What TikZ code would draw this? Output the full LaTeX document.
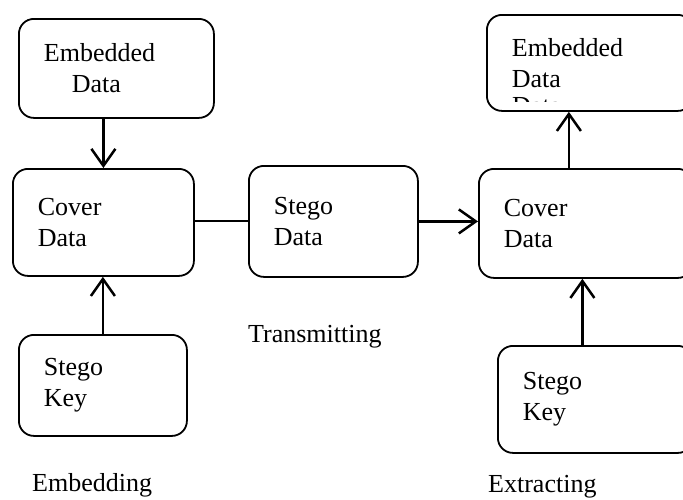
\documentclass[tikz,border=0pt]{standalone}
\usepackage{fontspec}
\setmainfont{Liberation Serif}
\usetikzlibrary{arrows.meta,positioning}
\tikzset{
  boxnode/.style={draw,rounded corners=15pt,line width=1.8pt,anchor=north west,align=left,inner xsep=25pt,inner ysep=0pt,font=\fontsize{26}{31}\selectfont},
  flowarrow/.style={-{Straight Barb[length=17pt,width=24pt]},line width=2.5pt},
  flowline/.style={line width=2pt},
  caption/.style={anchor=base west,inner sep=0pt,font=\fontsize{26}{31}\selectfont}
}

\begin{document}
\begin{tikzpicture}[x=1pt,y=-1pt]
\useasboundingbox (0,0) rectangle (683,499);
\clip (0,0) rectangle (683,499);

% embedding side
\node[boxnode,text width=145pt,minimum height=99pt] (embin) at (18,18) {Embedded\\\hspace*{28pt}Data};
\node[boxnode,text width=131pt,minimum height=107pt] (coverin) at (12,168) {Cover\\Data};
\node[boxnode,text width=118pt,minimum height=101pt] (keyin) at (18,334) {Stego\\Key};
\node[caption] (embedding) at (32,491) {Embedding};

% channel
\node[boxnode,text width=119pt,minimum height=111pt] (stego) at (248,165) {Stego\\Data};
\node[caption] (transmit) at (248,342) {Transmitting};

% extracting side
\node[boxnode,text width=156pt,minimum height=96pt] (embout) at (486,14) {Embedded\\Data};
\begin{scope}
  \clip (486,14) rectangle (692,101);
  \node[caption] (embouttail) at (512,114) {Data};
\end{scope}
\node[boxnode,text width=164pt,minimum height=109pt] (coverout) at (478,168) {Cover\\Data};
\node[boxnode,text width=145pt,minimum height=107pt] (keyout) at (497,345) {Stego\\Key};
\node[caption] (extracting) at (488,492) {Extracting};

\draw[flowarrow] (embin.south -| coverin.north) -- (coverin.north);
\draw[flowarrow] (keyin.north) -- (keyin.north |- coverin.south);
\draw[flowline] (stego.west -| coverin.east) -- (stego.west);
\draw[flowarrow] (stego.east) -- (stego.east -| coverout.west);
\draw[flowarrow] ([xshift=-17pt]coverout.north) -- ([xshift=-17pt]coverout.north |- embout.south);
\draw[flowarrow] ([xshift=-13pt]keyout.north) -- ([xshift=-13pt]keyout.north |- coverout.south);
\end{tikzpicture}
\end{document}
